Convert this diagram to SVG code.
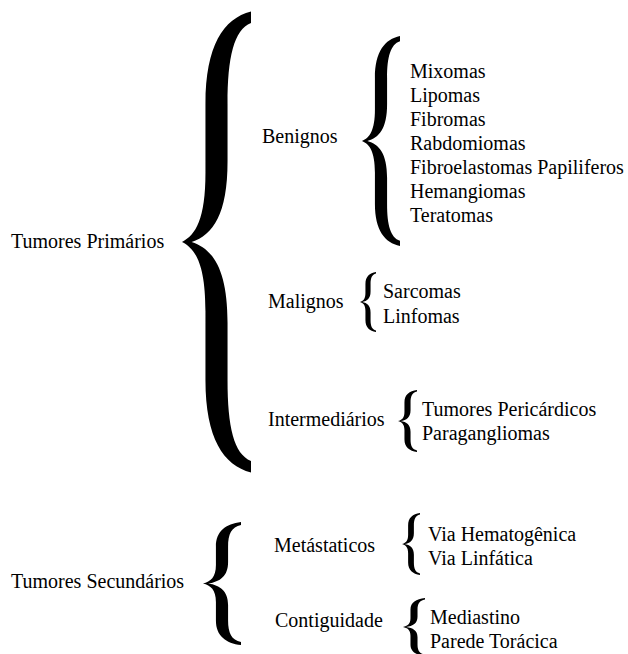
<svg xmlns="http://www.w3.org/2000/svg" xmlns:xlink="http://www.w3.org/1999/xlink" width="628" height="654" viewBox="0 0 628 654">
<style>
text{font-family:'Liberation Serif','Times New Roman',serif;font-size:20px;fill:#000}
.br{fill:#000;stroke:none}
</style>
<defs>
<path id="brace" d="M 1,-1 C 0.6,-0.97 0.34,-0.85 0.34,-0.6 L 0.34,-0.3 C 0.34,-0.1 0.2,-0.03 0,0 C 0.2,0.03 0.34,0.1 0.34,0.3 L 0.34,0.6 C 0.34,0.85 0.6,0.97 1,1 L 1,0.95 C 0.75,0.92 0.66,0.8 0.66,0.6 L 0.66,0.35 C 0.66,0.12 0.45,0.03 0.14,0 C 0.45,-0.03 0.66,-0.12 0.66,-0.35 L 0.66,-0.6 C 0.66,-0.8 0.75,-0.92 1,-0.95 Z"/>
</defs>
<rect width="628" height="654" fill="#fff"/>
<g id="connectors" class="br">
<use xlink:href="#brace" transform="translate(182,242) scale(69,230.5)"/>
<use xlink:href="#brace" transform="translate(362,141) scale(38,105)"/>
<use xlink:href="#brace" transform="translate(360,302) scale(16,30)"/>
<use xlink:href="#brace" transform="translate(398,421) scale(19,31)"/>
<use xlink:href="#brace" transform="translate(203,583.5) scale(38,61.5)"/>
<use xlink:href="#brace" transform="translate(402,544) scale(18,31)"/>
<use xlink:href="#brace" transform="translate(403,627) scale(22,29)"/>
</g>
<g id="primarios"><text x="11" y="248">Tumores Primários</text></g>
<g id="benignos"><text x="262" y="143">Benignos</text></g>
<g id="benignos-lista">
<text x="410" y="78">Mixomas</text>
<text x="410" y="102">Lipomas</text>
<text x="410" y="126">Fibromas</text>
<text x="410" y="150">Rabdomiomas</text>
<text x="410" y="174">Fibroelastomas Papiliferos</text>
<text x="410" y="198">Hemangiomas</text>
<text x="410" y="222">Teratomas</text>
</g>
<g id="malignos"><text x="268" y="308">Malignos</text></g>
<g id="malignos-lista">
<text x="383" y="298">Sarcomas</text>
<text x="383" y="323">Linfomas</text>
</g>
<g id="intermediarios"><text x="268" y="426">Intermediários</text></g>
<g id="intermediarios-lista">
<text x="422" y="416">Tumores Pericárdicos</text>
<text x="422" y="440">Paragangliomas</text>
</g>
<g id="secundarios"><text x="11" y="588">Tumores Secundários</text></g>
<g id="metastaticos"><text x="274" y="552">Metástaticos</text></g>
<g id="metastaticos-lista">
<text x="428" y="541">Via Hematogênica</text>
<text x="428" y="565">Via Linfática</text>
</g>
<g id="contiguidade"><text x="275" y="627">Contiguidade</text></g>
<g id="contiguidade-lista">
<text x="430" y="624">Mediastino</text>
<text x="430" y="648">Parede Torácica</text>
</g>
</svg>
